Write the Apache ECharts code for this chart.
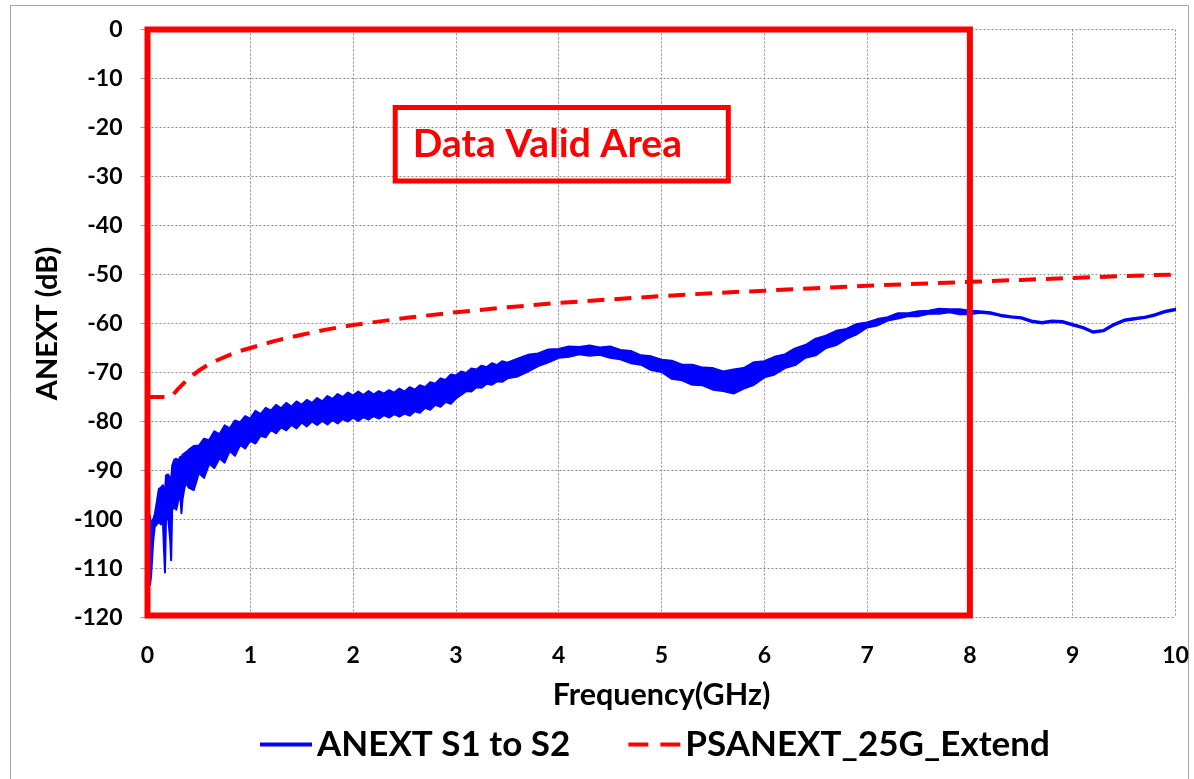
<!DOCTYPE html>
<html>
<head>
<meta charset="utf-8">
<script src="https://cdn.jsdelivr.net/npm/echarts@6/dist/echarts.min.js"></script>
<style>
html,body{margin:0;padding:0;background:#fff;}
#chart{width:1194px;height:779px;}
</style>
</head>
<body>
<div id="chart"></div>
<script>
// ---- data ----
const anextFreq = [
  0.015,0.025,0.035,0.045,0.055,0.07,0.09,0.11,0.13,0.15,0.16,0.17,0.18,0.20,0.22,0.23,0.24,0.26,0.28,0.30,0.32,0.33,0.34,0.36,0.38,0.40,
  0.45,0.50,0.55,0.60,0.65,0.70,0.75,0.80,0.85,0.90,0.95,1.00,1.05,1.10,1.15,1.20,1.25,1.30,1.35,1.40,1.45,1.50,
  1.55,1.60,1.65,1.70,1.75,1.80,1.85,1.90,1.95,2.00,2.05,2.10,2.15,2.20,2.25,2.30,2.35,2.40,2.45,2.50,
  2.55,2.60,2.65,2.70,2.75,2.80,2.85,2.90,2.95,3.00,3.05,3.10,3.15,3.20,3.25,3.30,3.35,3.40,3.45,3.50,
  3.6,3.7,3.8,3.9,4.0,4.1,4.2,4.3,4.4,4.5,4.6,4.7,4.8,4.9,5.0,5.1,5.2,5.3,5.4,5.5,5.6,5.7,5.8,5.9,6.0,
  6.1,6.2,6.3,6.4,6.5,6.6,6.7,6.8,6.9,7.0,7.1,7.2,7.3,7.4,7.5,7.6,7.7,7.8,7.9,8.0,
  8.1,8.2,8.3,8.4,8.5,8.6,8.7,8.8,8.9,9.0,9.1,9.2,9.3,9.4,9.5,9.6,9.7,9.8,9.9,10.0
];
// upper edge of the noisy ANEXT trace (dB)
const anextUpper = [
  -98.7,-99.5,-101,-100.5,-100,-99,-96.5,-93.8,-93.5,-93,-94,-94.5,-91,-90.8,-91.5,-92,-89,-87.8,-87.6,-88,-87.2,-87.8,-86.8,-86.5,-86.2,-85.8,
  -85.0,-84.9,-83.5,-83.8,-82.0,-82.6,-80.8,-81.4,-79.8,-80.2,-78.9,-79.4,-77.8,-78.5,-77.2,-77.8,-76.6,-77.3,-76.2,-77.0,-75.9,-76.6,
  -75.6,-76.2,-75.2,-75.9,-74.8,-75.4,-74.4,-75.0,-74.1,-74.7,-73.9,-74.6,-73.8,-74.5,-73.8,-74.3,-73.6,-74.1,-73.3,-73.9,
  -73.0,-73.5,-72.6,-73.0,-72.0,-72.3,-71.2,-71.5,-70.4,-70.6,-69.8,-70.1,-69.2,-69.4,-68.6,-68.9,-68.1,-68.5,-67.7,-68.0,
  -67.2,-66.4,-66.1,-65.3,-65.2,-64.7,-64.8,-64.5,-64.9,-64.7,-65.4,-65.6,-66.5,-66.7,-67.4,-67.6,-68.4,-68.4,-69.0,-69.1,-69.8,-69.4,-69.1,-67.9,-67.7,
  -66.8,-66.3,-65.1,-64.4,-63.1,-62.5,-61.5,-61.1,-60.1,-59.8,-59.1,-58.7,-57.9,-57.9,-57.5,-57.4,-57.0,-57.1,-57.1,-57.4,
  -57.5,-57.7,-58.2,-58.5,-58.7,-59.4,-59.7,-59.4,-59.5,-60.1,-60.7,-61.6,-61.3,-60.1,-59.2,-58.9,-58.6,-58.1,-57.4,-57.0
];
// lower edge of the noisy ANEXT trace (dB)
const anextLower = [
  -111,-113.3,-111.5,-108,-104.5,-101.5,-101,-100.5,-101,-100.3,-106,-110.8,-100,-99.5,-104,-108.3,-98,-97.5,-98,-96,-95.5,-98.7,-96,-93.5,-92.5,-93.5,
  -94.0,-90.5,-91.5,-88.6,-89.5,-87.5,-88.4,-86.0,-87.0,-84.8,-85.5,-83.9,-84.5,-82.9,-83.2,-81.7,-82.4,-81.2,-81.8,-80.7,-81.4,-80.2,
  -81.0,-80.0,-80.7,-79.9,-80.6,-79.7,-80.4,-79.5,-80.0,-79.2,-79.9,-79.1,-79.6,-78.9,-79.4,-78.7,-79.2,-78.5,-79.0,-78.4,
  -78.8,-77.9,-78.2,-77.2,-77.6,-76.6,-77.0,-76.0,-76.4,-75.3,-74.6,-73.8,-73.9,-73.0,-73.1,-72.3,-72.5,-71.8,-71.9,-71.2,
  -70.8,-69.8,-68.7,-67.9,-67.0,-66.8,-66.3,-66.6,-66.4,-67.0,-67.3,-68.1,-68.4,-69.5,-69.9,-71.3,-71.6,-72.5,-72.6,-73.5,-73.8,-74.3,-73.3,-72.5,-71.0,
  -70.4,-69.1,-68.5,-67.0,-66.5,-65.0,-64.4,-63.1,-62.2,-60.8,-60.4,-59.4,-59.0,-58.5,-58.5,-58.0,-58.0,-57.7,-58.1,-58.1,
  -57.8,-58.0,-58.5,-58.8,-59.0,-59.7,-60.0,-59.7,-59.8,-60.4,-61.0,-61.9,-61.6,-60.4,-59.5,-59.2,-58.9,-58.4,-57.7,-57.3
];
const psFreq = [0,0.1,0.2,0.25,0.3,0.4,0.5,0.6,0.7,0.8,0.9,1.0,1.25,1.5,1.75,2.0,2.5,3.0,3.5,4.0,4.5,5.0,5.5,6.0,6.5,7.0,7.5,8.0,8.5,9.0,9.5,10.0];
const psValues = [-75,-75,-75,-74.5,-73.3,-71.2,-69.6,-68.3,-67.3,-66.4,-65.6,-65.0,-63.5,-62.3,-61.2,-60.3,-58.9,-57.7,-56.7,-55.8,-55.1,-54.4,-53.8,-53.3,-52.8,-52.3,-51.9,-51.5,-51.1,-50.7,-50.3,-50.0];

const seriesNames = ['ANEXT S1 to S2', 'PSANEXT_25G_Extend'];
const validArea = [[0, 0], [8, -119.6]];
const noteBox = [[2.41, -15.9], [5.65, -30.9]];
const noteText = 'Data Valid Area';
const xName = 'Frequency(GHz)';
const yName = 'ANEXT (dB)';

// ---- build ----
const FONT = 'Lato, "Liberation Sans", sans-serif';
const bandData = anextFreq.map((f, i) => [f, anextUpper[i], anextLower[i]]);
const psData = psFreq.map((f, i) => [f, psValues[i]]);

function renderBand(params, api) {
  if (params.dataIndex !== 0) return null;
  const pts = [];
  for (let i = 0; i < anextFreq.length; i++) pts.push(api.coord([anextFreq[i], anextUpper[i]]));
  for (let i = anextFreq.length - 1; i >= 0; i--) pts.push(api.coord([anextFreq[i], anextLower[i]]));
  return {
    type: 'polygon',
    shape: {points: pts},
    style: {fill: '#0000ff', stroke: '#0000ff', lineWidth: 2, lineJoin: 'round'}
  };
}

const chart = echarts.init(document.getElementById('chart'), null, {renderer: 'canvas'});
chart.setOption({
  animation: false,
  backgroundColor: '#ffffff',
  graphic: [{
    type: 'rect', shape: {x: 10.5, y: 5.5, width: 1178, height: 790},
    style: {fill: 'none', stroke: '#a6a6a6', lineWidth: 1}, z: -1
  }],
  grid: {left: 147.5, top: 29.5, width: 1028, height: 588},
  legend: {
    data: [
      {name: seriesNames[0], icon: 'path://M0,0 H52 V4 H0 Z'},
      {name: seriesNames[1], icon: 'path://M0,0 H20 V4 H0 Z M32,0 H52 V4 H32 Z'}
    ],
    left: 260, top: 727, padding: 0,
    itemWidth: 52, itemHeight: 4, itemGap: 58,
    textStyle: {fontFamily: FONT, fontWeight: 'bold', fontSize: 35, color: '#000'}
  },
  xAxis: {
    type: 'value', min: 0, max: 10, interval: 1,
    name: xName, nameLocation: 'middle', nameGap: 62,
    nameTextStyle: {fontFamily: FONT, fontWeight: 'bold', fontSize: 30.5, color: '#000'},
    axisLine: {show: false},
    axisTick: {show: false},
    axisLabel: {margin: 27, fontFamily: FONT, fontWeight: 'bold', fontSize: 23, color: '#000'},
    splitLine: {show: true, lineStyle: {color: '#8c8c8c', width: 1, type: [2, 2]}}
  },
  yAxis: {
    type: 'value', min: -120, max: 0, interval: 10,
    name: yName, nameLocation: 'middle', nameGap: 85, nameRotate: 90,
    nameTextStyle: {fontFamily: FONT, fontWeight: 'bold', fontSize: 29, color: '#000'},
    axisLine: {show: true, onZero: false, lineStyle: {color: '#a0a0a0', width: 1}},
    axisTick: {show: true, length: 7, lineStyle: {color: '#a0a0a0'}},
    axisLabel: {margin: 25, fontFamily: FONT, fontWeight: 'bold', fontSize: 23, color: '#000'},
    splitLine: {show: true, lineStyle: {color: '#8c8c8c', width: 1, type: [2, 2]}}
  },
  series: [
    {
      name: seriesNames[0], type: 'custom', data: bandData,
      encode: {x: 0, y: [1, 2]},
      renderItem: renderBand,
      itemStyle: {color: '#0000ff'},
      clip: true, z: 3
    },
    {
      name: seriesNames[1], type: 'line', data: psData,
      symbol: 'none', smooth: false,
      lineStyle: {color: '#ff0000', width: 4, type: [17, 10]}, itemStyle: {color: '#ff0000'},
      z: 4,
      markArea: {
        silent: true, z: 10,
        itemStyle: {color: 'rgba(0,0,0,0)', borderColor: '#ff0000', borderWidth: 6},
        label: {show: false},
        data: [
          [{coord: validArea[0]}, {coord: validArea[1]}],
          [{coord: noteBox[0], label: {show: true, position: 'insideLeft', distance: 20,
              formatter: noteText, color: '#ff0000', fontFamily: FONT, fontWeight: 'bold', fontSize: 39},
            itemStyle: {borderWidth: 5}},
           {coord: noteBox[1]}]
        ]
      }
    }
  ]
});
</script>
</body>
</html>
